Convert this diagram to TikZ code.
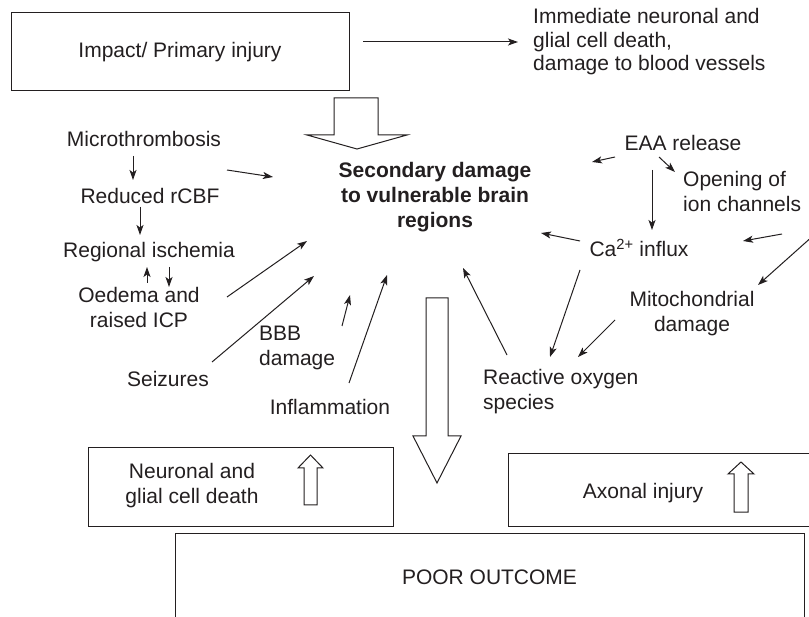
\documentclass[tikz,border=0pt]{standalone}
\usepackage{fontspec}
\setmainfont{Liberation Sans}
\usetikzlibrary{arrows.meta}
\definecolor{ink}{RGB}{35,31,32}
\tikzset{
  lbl/.style={inner sep=0pt, align=center, text=ink, font=\fontsize{21}{25}\selectfont},
  lblL/.style={lbl, align=left},
  boxline/.style={draw=ink, line width=1pt},
  arr/.style={draw=ink, line width=1pt, -{Stealth[length=10pt,width=7pt,inset=2.5pt]}},
  hollow/.style={draw=ink, line width=1pt, fill=white, line join=miter},
}
\begin{document}
\begin{tikzpicture}[x=1pt,y=-1pt]
\useasboundingbox (0,0) rectangle (809,617);
\clip (0,0) rectangle (809,617);
\fill[white] (0,0) rectangle (809,617);

% top box and primary effects
\node[boxline, lbl, minimum width=338pt, minimum height=78pt] (impact) at (180,52) {Impact/ Primary injury};
\node[lblL, anchor=west, font=\fontsize{21}{23.5}\selectfont] (immediate) at (533,42) {Immediate neuronal and\\glial cell death,\\damage to blood vessels};
\coordinate (i1) at (363,42); \coordinate (i2) at (518,42);
\draw[arr] (i1) -- (i2);

% hollow arrow from impact
\draw[hollow] (334,98) -- (378,98) -- (378,135) -- (407,135) -- (357,149) -- (307,135) -- (334,135) -- cycle;

% central text
\node[lbl, font=\fontsize{21}{25}\selectfont\bfseries] (secondary) at (435,197) {Secondary damage\\to vulnerable brain\\regions};

% left labels
\node[lbl] (micro) at (144,139) {Microthrombosis};
\node[lbl] (rcbf) at (150,196) {Reduced rCBF};
\node[lbl] (isch) at (149,252) {Regional ischemia};
\node[lbl] (oedema) at (139,307) {Oedema and\\raised ICP};
\node[lbl] (seiz) at (168,379) {Seizures};
\node[lblL, anchor=west] (bbb) at (259,348) {BBB\\damage};
\node[lbl] (infl) at (330,407) {Inflammation};

% right labels
\node[lbl] (eaa) at (683,143) {EAA release};
\node[lblL, anchor=west] (opening) at (683,191) {Opening of\\ion channels};
\node[lbl] (ca) at (639,248) {Ca\textsuperscript{2+} influx};
\node[lbl] (mito) at (692,314) {Mitochondrial\\damage};
\node[lblL, anchor=west] (ros) at (483,392) {Reactive oxygen\\species};

% left arrows
\coordinate (a1s) at (133,156); \coordinate (a1e) at (133,180);
\coordinate (a2s) at (140,207); \coordinate (a2e) at (140,235);
\coordinate (a3s) at (147,283); \coordinate (a3e) at (147,267);
\coordinate (a4s) at (169,267); \coordinate (a4e) at (169,287);
\coordinate (a5s) at (227,170); \coordinate (a5e) at (273,177);
\coordinate (a6s) at (227,297); \coordinate (a6e) at (307,241);
\coordinate (a7s) at (212,362); \coordinate (a7e) at (314,276);
\coordinate (a8s) at (342,326); \coordinate (a8e) at (350,295);
\coordinate (a9s) at (349,383); \coordinate (a9e) at (387,275);
\foreach \k in {1,...,9} \draw[arr] (a\k s) -- (a\k e);

% right arrows
\coordinate (b1s) at (615,157); \coordinate (b1e) at (592,162);
\coordinate (b2s) at (659,157); \coordinate (b2e) at (675,172);
\coordinate (b3s) at (652,170); \coordinate (b3e) at (652,230);
\coordinate (b4s) at (580,241); \coordinate (b4e) at (541,233);
\coordinate (b5s) at (782,234); \coordinate (b5e) at (743,241);
\coordinate (b6s) at (814,235); \coordinate (b6e) at (758,285);
\coordinate (b7s) at (615,320); \coordinate (b7e) at (578,357);
\coordinate (b8s) at (580,270); \coordinate (b8e) at (550,357);
\coordinate (b9s) at (507,355); \coordinate (b9e) at (463,268);
\foreach \k in {1,...,9} \draw[arr] (b\k s) -- (b\k e);

% big hollow down arrow
\draw[hollow] (426,298) -- (448,298) -- (448,436) -- (461,436) -- (437,483) -- (413,436) -- (426,436) -- cycle;

% bottom left box
\node[boxline, lbl, minimum width=305pt, minimum height=78pt] (neuro) at (240.5,487) {};
\node[lbl] (neurotxt) at (192,486) {Neuronal and\\glial cell death};
\draw[hollow] (304,505) -- (304,468) -- (298,468) -- (310.5,455) -- (323,468) -- (317,468) -- (317,505) -- cycle;

% bottom right box
\draw[boxline] (830,454) -- (508,454) -- (508,526) -- (830,526);
\node[lbl] (axonal) at (643,493) {Axonal injury};
\draw[hollow] (734,512) -- (734,474) -- (728,474) -- (741,462) -- (754,474) -- (748,474) -- (748,512) -- cycle;

% poor outcome
\draw[boxline] (175,640) -- (175,533) -- (804,533) -- (804,640);
\node[lbl] (poor) at (489.5,577) {POOR OUTCOME};
\end{tikzpicture}
\end{document}
